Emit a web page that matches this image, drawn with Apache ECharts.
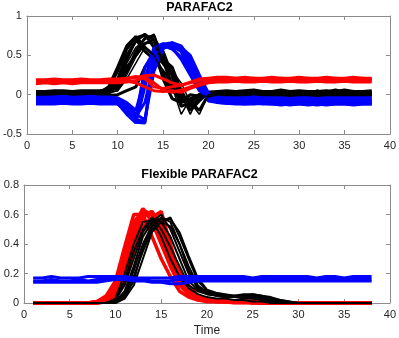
<!DOCTYPE html>
<html>
<head>
<meta charset="utf-8">
<script src="https://cdn.jsdelivr.net/npm/echarts@6/dist/echarts.min.js"></script>
<style>
    html, body {margin: 0; padding: 0; background: #fff;}
    #main {width: 399px; height: 338px;}
</style>
</head>
<body>
<div id="main"></div>
<script>
// sample index (time)
const xs = [1, 2, 3, 4, 5, 6, 7, 8, 9, 10, 11, 12, 13, 14, 15, 16, 17, 18, 19, 20,
    21, 22, 23, 24, 25, 26, 27, 28, 29, 30, 31, 32, 33, 34, 35, 36, 37, 38]

// ---- PARAFAC2 (top) ----
const topBlack1 = [0.02, 0.02, 0.03, 0.03, 0.02, 0.03, 0.03, 0.03, 0.05, 0.20,
    0.50, 0.68, 0.77, 0.60, 0.20, -0.05, -0.10, -0.05, 0.00, 0.02,
    0.02, 0.03, 0.02, 0.03, 0.02, 0.02, 0.03, 0.02, 0.02, 0.03,
    0.02, 0.03, 0.02, 0.02, 0.03, 0.02, 0.02, 0.03]
const topBlack2 = [0.00, 0.00, 0.01, 0.01, 0.00, 0.01, 0.01, 0.01, 0.02, 0.10,
    0.40, 0.60, 0.70, 0.77, 0.40, 0.10, -0.25, -0.05, -0.20, 0.00,
    0.01, 0.00, 0.01, 0.02, 0.01, 0.00, 0.01, 0.04, 0.01, 0.01,
    0.00, 0.06, 0.01, 0.00, 0.01, 0.00, 0.02, 0.02]
const topBlack3 = [-0.01, -0.01, 0.00, 0.00, -0.01, 0.00, 0.00, 0.00, 0.00, 0.15,
    0.45, 0.70, 0.55, 0.45, 0.30, 0.15, -0.15, -0.10, 0.00, -0.01,
    0.00, -0.01, 0.00, 0.00, -0.01, 0.00, 0.00, -0.01, 0.00, 0.00,
    -0.01, 0.00, 0.00, -0.01, 0.00, 0.00, -0.01, 0.00]
const topBlack4 = [0.04, 0.04, 0.05, 0.05, 0.04, 0.05, 0.05, 0.05, 0.06, 0.08,
    0.30, 0.55, 0.72, 0.75, 0.45, 0.35, 0.05, -0.20, -0.08, 0.03,
    0.04, 0.05, 0.04, 0.05, 0.06, 0.04, 0.04, 0.06, 0.04, 0.05,
    0.04, 0.04, 0.05, 0.04, 0.06, 0.04, 0.04, 0.05]
const topBlack5 = [0.01, 0.01, 0.02, 0.02, 0.01, 0.02, 0.02, 0.02, 0.03, 0.05,
    0.20, 0.40, 0.60, 0.50, 0.30, 0.20, 0.00, -0.25, 0.00, -0.03,
    0.00, 0.01, 0.01, 0.00, 0.01, 0.01, 0.00, 0.01, 0.01, 0.00,
    0.01, 0.00, 0.01, 0.01, 0.00, 0.01, 0.01, 0.00]
const topBlack6 = [-0.02, -0.02, -0.01, -0.01, -0.02, -0.01, -0.01, -0.01, -0.01, 0.00,
    0.05, 0.10, 0.35, 0.50, 0.40, 0.25, -0.05, -0.10, -0.20, 0.00,
    -0.02, -0.01, -0.02, -0.01, -0.02, -0.01, -0.01, -0.02, -0.01, -0.01,
    -0.02, -0.01, -0.01, -0.02, -0.01, -0.02, -0.01, -0.01]
const topBlack7 = [0.03, 0.03, 0.04, 0.04, 0.03, 0.04, 0.04, 0.04, 0.08, 0.30,
    0.58, 0.72, 0.76, 0.70, 0.50, 0.10, -0.08, 0.00, -0.02, 0.03,
    0.03, 0.04, 0.03, 0.03, 0.04, 0.03, 0.03, 0.04, 0.03, 0.03,
    0.04, 0.03, 0.03, 0.06, 0.03, 0.03, 0.04, 0.03]
const topBlack8 = [0.00, 0.00, 0.00, 0.01, 0.00, 0.00, 0.01, 0.00, 0.03, 0.12,
    0.35, 0.50, 0.65, 0.70, 0.55, 0.25, 0.05, -0.15, -0.05, 0.01,
    0.00, 0.01, 0.00, 0.00, 0.01, 0.00, 0.01, 0.00, 0.00, 0.01,
    0.00, 0.00, 0.01, 0.00, 0.00, 0.01, 0.00, 0.01]
const topBlack9 = [0.01, 0.01, 0.01, 0.02, 0.01, 0.01, 0.02, 0.01, 0.02, 0.05,
    0.25, 0.48, 0.65, 0.66, 0.38, 0.30, 0.15, -0.10, -0.25, 0.00,
    0.01, 0.02, 0.01, 0.01, 0.02, 0.01, 0.01, 0.02, 0.01, 0.01,
    0.02, 0.01, 0.01, 0.02, 0.01, 0.01, 0.02, 0.01]
const topBlack10 = [0.02, 0.02, 0.02, 0.03, 0.02, 0.02, 0.03, 0.02, 0.10, 0.35,
    0.62, 0.74, 0.60, 0.50, 0.25, 0.05, -0.05, -0.08, 0.00, 0.02,
    0.02, 0.03, 0.02, 0.02, 0.03, 0.02, 0.02, 0.03, 0.02, 0.02,
    0.03, 0.02, 0.02, 0.03, 0.02, 0.02, 0.03, 0.02]

const topBlue1 = [-0.05, -0.05, -0.06, -0.05, -0.05, -0.06, -0.05, -0.05, -0.05, -0.06,
    -0.15, -0.30, 0.35, 0.55, 0.62, 0.65, 0.55, 0.35, 0.12, -0.04,
    -0.05, -0.06, -0.05, -0.06, -0.06, -0.05, -0.06, -0.06, -0.07, -0.06,
    -0.06, -0.07, -0.06, -0.06, -0.07, -0.06, -0.06, -0.06]
const topBlue2 = [-0.09, -0.09, -0.10, -0.09, -0.09, -0.10, -0.09, -0.09, -0.09, -0.10,
    -0.20, -0.35, -0.36, 0.45, 0.60, 0.62, 0.55, 0.30, 0.10, -0.07,
    -0.08, -0.09, -0.09, -0.10, -0.09, -0.10, -0.10, -0.11, -0.10, -0.10,
    -0.11, -0.10, -0.11, -0.10, -0.10, -0.11, -0.10, -0.10]
const topBlue3 = [-0.12, -0.12, -0.12, -0.11, -0.12, -0.12, -0.11, -0.12, -0.12, -0.12,
    -0.22, -0.28, -0.10, 0.40, 0.64, 0.66, 0.62, 0.45, 0.20, -0.02,
    -0.10, -0.11, -0.12, -0.12, -0.12, -0.11, -0.12, -0.12, -0.13, -0.12,
    -0.12, -0.13, -0.12, -0.12, -0.12, -0.12, -0.12, -0.12]
const topBlue4 = [-0.03, -0.03, -0.03, -0.02, -0.03, -0.03, -0.02, -0.03, -0.03, -0.04,
    -0.10, -0.20, 0.20, 0.60, 0.65, 0.60, 0.45, 0.25, 0.05, -0.03,
    -0.03, -0.04, -0.04, -0.04, -0.03, -0.04, -0.04, -0.04, -0.05, -0.04,
    -0.04, -0.05, -0.04, -0.04, -0.04, -0.04, -0.04, -0.04]
const topBlue5 = [-0.08, -0.08, -0.08, -0.07, -0.08, -0.08, -0.07, -0.08, -0.08, -0.08,
    -0.18, -0.32, -0.34, 0.50, 0.64, 0.62, 0.58, 0.40, 0.15, 0.00,
    -0.07, -0.08, -0.08, -0.08, -0.07, -0.08, -0.08, -0.09, -0.08, -0.08,
    -0.09, -0.08, -0.08, -0.08, -0.09, -0.08, -0.08, -0.08]
const topBlue6 = [-0.06, -0.06, -0.07, -0.06, -0.06, -0.07, -0.06, -0.06, -0.06, -0.07,
    -0.12, -0.25, -0.32, 0.30, 0.58, 0.66, 0.60, 0.50, 0.25, 0.02,
    -0.05, -0.06, -0.06, -0.07, -0.06, -0.06, -0.07, -0.06, -0.06, -0.07,
    -0.06, -0.06, -0.07, -0.06, -0.06, -0.07, -0.06, -0.06]
const topBlue7 = [-0.10, -0.10, -0.11, -0.10, -0.10, -0.11, -0.10, -0.10, -0.10, -0.11,
    -0.25, -0.36, 0.10, 0.55, 0.62, 0.58, 0.48, 0.30, 0.08, -0.08,
    -0.10, -0.11, -0.11, -0.12, -0.11, -0.12, -0.12, -0.13, -0.12, -0.12,
    -0.13, -0.12, -0.13, -0.12, -0.12, -0.13, -0.12, -0.12]

const topRed1 = [0.18, 0.18, 0.18, 0.18, 0.18, 0.18, 0.18, 0.18, 0.18, 0.19,
    0.20, 0.22, 0.24, 0.25, 0.20, 0.15, 0.12, 0.15, 0.18, 0.20,
    0.20, 0.21, 0.21, 0.20, 0.21, 0.20, 0.20, 0.21, 0.20, 0.20,
    0.21, 0.20, 0.20, 0.21, 0.20, 0.20, 0.21, 0.20]
const topRed2 = [0.16, 0.16, 0.16, 0.16, 0.16, 0.16, 0.16, 0.16, 0.17, 0.17,
    0.17, 0.15, 0.10, 0.05, 0.04, 0.05, 0.03, 0.08, 0.12, 0.15,
    0.16, 0.16, 0.17, 0.16, 0.16, 0.17, 0.16, 0.16, 0.17, 0.16,
    0.16, 0.17, 0.16, 0.16, 0.17, 0.16, 0.16, 0.16]
const topRed3 = [0.14, 0.15, 0.14, 0.15, 0.14, 0.15, 0.15, 0.15, 0.15, 0.15,
    0.16, 0.18, 0.22, 0.15, 0.06, 0.03, 0.06, 0.10, 0.14, 0.17,
    0.19, 0.19, 0.18, 0.19, 0.18, 0.19, 0.19, 0.18, 0.19, 0.18,
    0.19, 0.19, 0.18, 0.19, 0.18, 0.19, 0.19, 0.18]
const topRed4 = [0.19, 0.19, 0.20, 0.19, 0.19, 0.20, 0.19, 0.19, 0.20, 0.20,
    0.21, 0.23, 0.20, 0.10, 0.08, 0.10, 0.12, 0.16, 0.20, 0.21,
    0.22, 0.22, 0.21, 0.22, 0.21, 0.21, 0.22, 0.21, 0.21, 0.22,
    0.21, 0.21, 0.22, 0.21, 0.21, 0.22, 0.21, 0.21]

// ---- Flexible PARAFAC2 (bottom) ----
const botRed1 = [0, 0, 0, 0, 0, 0, 0, 0.01, 0.03, 0.10,
    0.30, 0.52, 0.64, 0.55, 0.40, 0.25, 0.12, 0.06, 0.03, 0.01,
    0.01, 0.01, 0.01, 0.01, 0.01, 0.01, 0, 0, 0, 0,
    0, 0, 0, 0, 0, 0, 0, 0]
const botRed2 = [0, 0, 0, 0, 0, 0, 0, 0, 0.02, 0.06,
    0.20, 0.42, 0.58, 0.62, 0.48, 0.30, 0.15, 0.08, 0.04, 0.02,
    0.01, 0.01, 0.01, 0.01, 0.01, 0, 0, 0, 0, 0,
    0, 0, 0, 0, 0, 0, 0, 0]
const botRed3 = [0, 0, 0, 0, 0, 0, 0, 0, 0.01, 0.04,
    0.15, 0.35, 0.52, 0.58, 0.62, 0.40, 0.20, 0.10, 0.05, 0.02,
    0.01, 0.01, 0.01, 0.01, 0, 0, 0, 0, 0, 0,
    0, 0, 0, 0, 0, 0, 0, 0]
const botRed4 = [0, 0, 0, 0, 0, 0, 0, 0.01, 0.05, 0.15,
    0.38, 0.60, 0.60, 0.45, 0.30, 0.18, 0.08, 0.04, 0.02, 0.01,
    0.01, 0.01, 0, 0, 0, 0, 0, 0, 0, 0,
    0, 0, 0, 0, 0, 0, 0, 0]
const botRed5 = [0, 0, 0, 0, 0, 0, 0, 0, 0.02, 0.08,
    0.25, 0.48, 0.63, 0.60, 0.55, 0.35, 0.22, 0.12, 0.05, 0.03,
    0.02, 0.01, 0.01, 0.01, 0.01, 0.01, 0.01, 0, 0, 0,
    0, 0, 0, 0, 0, 0, 0, 0]
const botRed6 = [0, 0, 0, 0, 0, 0, 0, 0.01, 0.03, 0.12,
    0.32, 0.55, 0.62, 0.60, 0.45, 0.28, 0.14, 0.07, 0.03, 0.02,
    0.01, 0.01, 0.01, 0.01, 0, 0, 0, 0, 0, 0,
    0, 0, 0, 0, 0, 0, 0, 0]
const botRed7 = [0, 0, 0, 0, 0, 0, 0, 0, 0.01, 0.05,
    0.22, 0.45, 0.60, 0.62, 0.52, 0.32, 0.18, 0.09, 0.04, 0.02,
    0.01, 0.01, 0.01, 0.01, 0.01, 0, 0, 0, 0, 0,
    0, 0, 0, 0, 0, 0, 0, 0]

const botBlack1 = [0, 0, 0, 0, 0, 0, 0, 0, 0, 0.02,
    0.15, 0.35, 0.50, 0.58, 0.50, 0.38, 0.25, 0.12, 0.08, 0.06,
    0.05, 0.04, 0.04, 0.03, 0.03, 0.02, 0.01, 0, 0, 0,
    0, 0, 0, 0, 0, 0, 0, 0]
const botBlack2 = [0, 0, 0, 0, 0, 0, 0, 0, 0, 0.01,
    0.08, 0.25, 0.45, 0.55, 0.60, 0.50, 0.35, 0.20, 0.10, 0.07,
    0.05, 0.05, 0.04, 0.05, 0.05, 0.04, 0.03, 0.01, 0, 0,
    0, 0, 0, 0, 0, 0, 0, 0]
const botBlack3 = [0, 0, 0, 0, 0, 0, 0, 0, 0, 0.01,
    0.05, 0.18, 0.35, 0.50, 0.55, 0.58, 0.45, 0.30, 0.15, 0.08,
    0.06, 0.05, 0.05, 0.06, 0.06, 0.05, 0.04, 0.02, 0.01, 0,
    0, 0, 0, 0, 0, 0, 0, 0]
const botBlack4 = [0, 0, 0, 0, 0, 0, 0, 0, 0, 0.03,
    0.20, 0.40, 0.55, 0.56, 0.45, 0.30, 0.18, 0.10, 0.06, 0.04,
    0.03, 0.03, 0.02, 0.02, 0.01, 0.01, 0, 0, 0, 0,
    0, 0, 0, 0, 0, 0, 0, 0]
const botBlack5 = [0, 0, 0, 0, 0, 0, 0, 0, 0, 0,
    0.03, 0.12, 0.30, 0.48, 0.55, 0.52, 0.40, 0.25, 0.12, 0.07,
    0.05, 0.04, 0.04, 0.04, 0.04, 0.03, 0.02, 0.01, 0, 0,
    0, 0, 0, 0, 0, 0, 0, 0]
const botBlack6 = [0, 0, 0, 0, 0, 0, 0, 0, 0, 0.02,
    0.12, 0.30, 0.48, 0.57, 0.55, 0.45, 0.30, 0.15, 0.09, 0.06,
    0.05, 0.04, 0.04, 0.04, 0.03, 0.03, 0.02, 0.01, 0, 0,
    0, 0, 0, 0, 0, 0, 0, 0]
const botBlack7 = [0, 0, 0, 0, 0, 0, 0, 0, 0, 0.01,
    0.06, 0.22, 0.40, 0.53, 0.58, 0.55, 0.40, 0.22, 0.11, 0.07,
    0.06, 0.05, 0.05, 0.05, 0.05, 0.04, 0.03, 0.01, 0, 0,
    0, 0, 0, 0, 0, 0, 0, 0]
const botBlack8 = [0, 0, 0, 0, 0, 0, 0, 0, 0, 0,
    0.04, 0.15, 0.38, 0.52, 0.57, 0.57, 0.48, 0.32, 0.17, 0.09,
    0.07, 0.06, 0.05, 0.05, 0.06, 0.05, 0.03, 0.02, 0.01, 0,
    0, 0, 0, 0, 0, 0, 0, 0]

const botBlue1 = [0.17, 0.17, 0.18, 0.17, 0.17, 0.17, 0.18, 0.18, 0.18, 0.18,
    0.18, 0.17, 0.17, 0.17, 0.17, 0.17, 0.18, 0.18, 0.18, 0.18,
    0.18, 0.18, 0.18, 0.18, 0.17, 0.18, 0.18, 0.18, 0.18, 0.18,
    0.18, 0.17, 0.18, 0.18, 0.17, 0.18, 0.18, 0.18]
const botBlue2 = [0.15, 0.15, 0.16, 0.15, 0.15, 0.16, 0.15, 0.16, 0.16, 0.16,
    0.16, 0.16, 0.16, 0.15, 0.15, 0.15, 0.16, 0.16, 0.16, 0.16,
    0.16, 0.16, 0.16, 0.16, 0.16, 0.16, 0.16, 0.16, 0.16, 0.16,
    0.16, 0.16, 0.16, 0.16, 0.16, 0.16, 0.16, 0.16]
const botBlue3 = [0.14, 0.14, 0.14, 0.14, 0.14, 0.14, 0.14, 0.14, 0.15, 0.16,
    0.16, 0.15, 0.15, 0.14, 0.14, 0.13, 0.13, 0.14, 0.15, 0.15,
    0.15, 0.15, 0.15, 0.15, 0.15, 0.15, 0.15, 0.15, 0.15, 0.15,
    0.15, 0.15, 0.15, 0.15, 0.15, 0.15, 0.15, 0.15]

const xTicks = {min: 0, max: 40, interval: 5}
const topY = {min: -0.5, max: 1, interval: 0.5}
const botY = {min: 0, max: 0.8, interval: 0.2}

const FONT = '"Liberation Sans", Arial, Helvetica, sans-serif'
const AXIS_COLOR = '#8c8c8c'
const TEXT_COLOR = '#262626'

function pts(ys) {
    return ys.map((y, i) => [xs[i], y])
}

function lineGroup(list, color, width, idx) {
    return list.map(ys => ({
        type: 'line',
        xAxisIndex: idx,
        yAxisIndex: idx,
        data: pts(ys),
        symbol: 'none',
        silent: true,
        lineStyle: {color: color, width: width},
        z: 2
    }))
}

// shared axis look; mirrored axes (top / right) only draw the box line and inward ticks
function axisBase(show) {
    return {
        type: 'value',
        axisLine: {show: true, onZero: false, lineStyle: {color: AXIS_COLOR}},
        axisTick: {show: true, inside: true, length: 4, lineStyle: {color: AXIS_COLOR}},
        axisLabel: {show: show, fontFamily: FONT, fontSize: 11, color: TEXT_COLOR},
        splitLine: {show: false}
    }
}

function makeX(gridIndex, pos, name) {
    const a = axisBase(pos === 'bottom')
    a.gridIndex = gridIndex
    a.position = pos
    a.min = xTicks.min
    a.max = xTicks.max
    a.interval = xTicks.interval
    a.axisLabel.margin = 6
    if (name) {
        a.name = name
        a.nameLocation = 'middle'
        a.nameGap = 22
        a.nameTextStyle = {fontFamily: FONT, fontSize: 12, color: TEXT_COLOR}
    }
    return a
}

function makeY(gridIndex, pos, r) {
    const a = axisBase(pos === 'left')
    a.gridIndex = gridIndex
    a.position = pos
    a.min = r.min
    a.max = r.max
    a.interval = r.interval
    a.axisLabel.margin = 5
    return a
}

// top: thick black under blue, a few thin black zigzags over it, red last
const series = [].concat(
    lineGroup([topBlack1, topBlack3, topBlack4, topBlack6, topBlack7, topBlack8, topBlack10], '#000000', 3, 0),
    lineGroup([topBlue1, topBlue2, topBlue3, topBlue4, topBlue5, topBlue6, topBlue7], '#0000ff', 3, 0),
    lineGroup([topBlack2, topBlack5, topBlack9], '#000000', 1.5, 0),
    lineGroup([topRed1, topRed2, topRed3, topRed4], '#ff0000', 3, 0),
    lineGroup([botRed1, botRed2, botRed3, botRed4, botRed5, botRed6, botRed7], '#ff0000', 3.5, 2),
    lineGroup([botBlack1, botBlack2, botBlack3, botBlack4, botBlack5, botBlack6, botBlack7, botBlack8], '#000000', 2, 2),
    lineGroup([botBlue1, botBlue2, botBlue3], '#0000ff', 3, 2)
)

const option = {
    animation: false,
    backgroundColor: '#ffffff',
    title: [
        {text: 'PARAFAC2', left: 'center', top: 1, padding: 0,
            textStyle: {fontFamily: FONT, fontSize: 12.5, fontWeight: 'bold', color: '#000'}},
        {text: 'Flexible PARAFAC2', left: 'center', top: 168, padding: 0,
            textStyle: {fontFamily: FONT, fontSize: 12.5, fontWeight: 'bold', color: '#000'}}
    ],
    grid: [
        {left: 24, top: 16, width: 369, height: 118},
        {left: 24, top: 185, width: 369, height: 119}
    ],
    xAxis: [makeX(0, 'bottom'), makeX(0, 'top'), makeX(1, 'bottom', 'Time'), makeX(1, 'top')],
    yAxis: [makeY(0, 'left', topY), makeY(0, 'right', topY), makeY(1, 'left', botY), makeY(1, 'right', botY)],
    series: series
}

const chart = echarts.init(document.getElementById('main'))
chart.setOption(option)
</script>
</body>
</html>
